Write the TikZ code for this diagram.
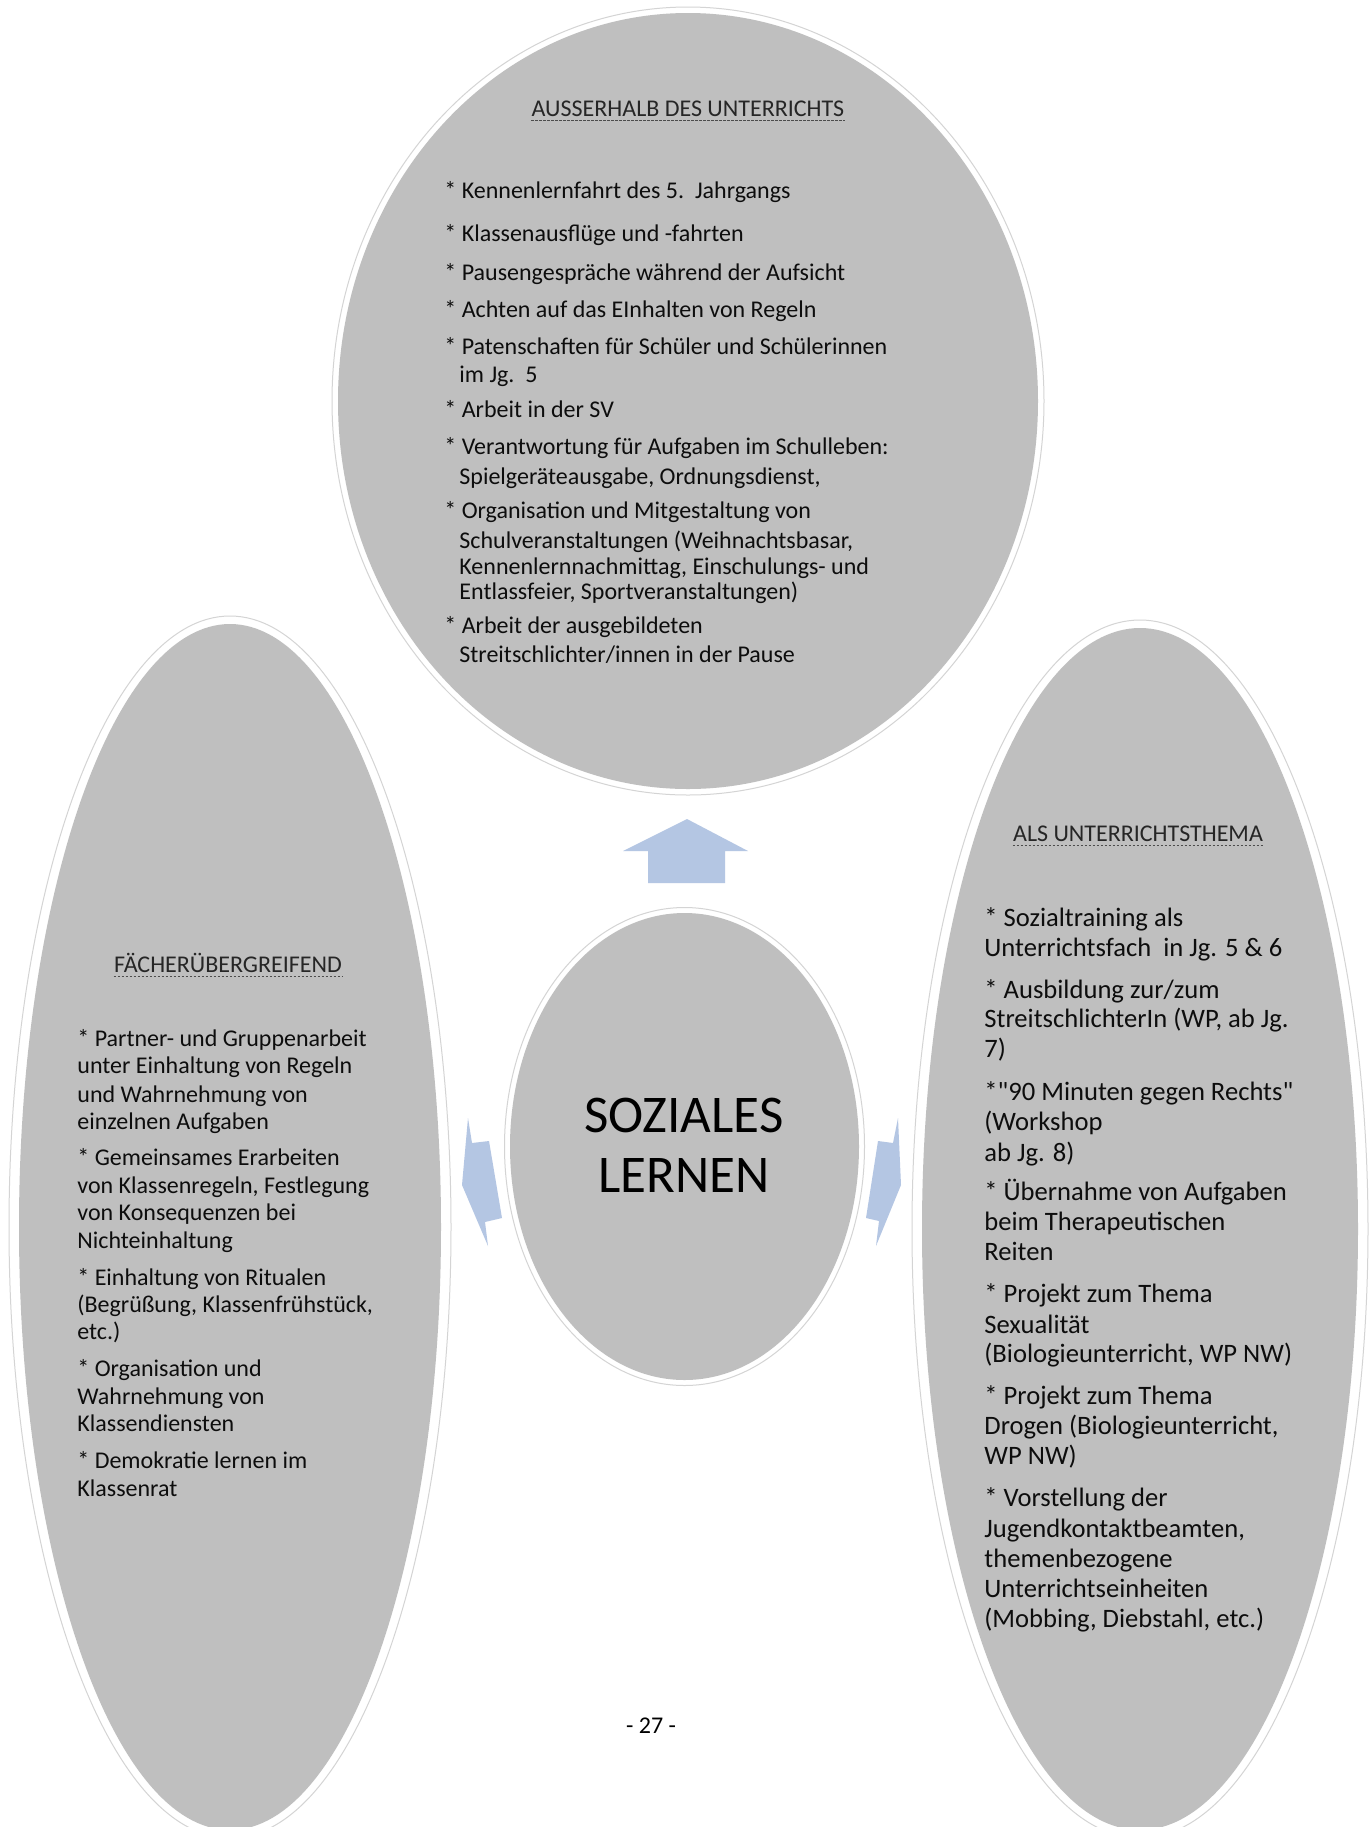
\documentclass[tikz,border=0pt]{standalone}
\usepackage{fontspec}
\setmainfont{Carlito}[Ligatures=TeXOff]
\definecolor{ellgray}{HTML}{BFBFBF}
\definecolor{arrblue}{HTML}{B4C6E3}
\definecolor{rimgray}{HTML}{D4D4D4}
\tikzset{
  rim/.style={draw=rimgray, line width=0.5pt, fill=white},
  blob/.style={fill=ellgray},
  body/.style={anchor=base west, inner sep=0pt, font=\fontsize{12}{14}\selectfont, text=black!95},
  bodyr/.style={body, font=\fontsize{13.3}{15}\selectfont},
  head/.style={anchor=base, inner sep=0pt, font=\fontsize{12}{14}\selectfont, text=black!85},
  uline/.style={draw=black!70, line width=0.5pt, dash pattern=on 1.2pt off 0.8pt},
  blockarrow/.style={fill=arrblue},
  bigtext/.style={anchor=base, inner sep=0pt, font=\fontsize{26.5}{30}\selectfont, text=black},
}
\begin{document}
\begin{tikzpicture}[x=0.5pt, y=-0.5pt]
\useasboundingbox (0,0) rectangle (1370,1827);
\clip (0,0) rectangle (1370,1827);
\fill[white] (0,0) rectangle (1370,1827);

% ellipses
\draw[rim] (688,401) ellipse [x radius=356, y radius=394];
\fill[blob] (688,401) ellipse [x radius=350, y radius=388];
\draw[rim] (230,1227) ellipse [x radius=221, y radius=611];
\fill[blob] (230,1227) ellipse [x radius=211, y radius=603];
\draw[rim] (1140,1229) ellipse [x radius=228, y radius=609];
\fill[blob] (1140,1229) ellipse [x radius=218, y radius=601];
\draw[rim] (684.5,1146.5) ellipse [x radius=180, y radius=239];
\fill[blob] (684.5,1146.5) ellipse [x radius=174.5, y radius=233.5];

% block arrows
\fill[blockarrow] (687,819) -- (748,851) -- (725,851) -- (725,883) -- (648,883) -- (648,851) -- (623,851) -- cycle;
\fill[blockarrow] (468,1118) -- (472,1143) -- (489,1141) -- (502,1218) -- (485,1222) -- (488,1246) -- (462,1185) -- cycle;
\fill[blockarrow] (898,1118) -- (893,1143) -- (878,1141) -- (866,1218) -- (879,1221) -- (876,1246) -- (901,1185) -- cycle;

% centre
\node[bigtext] (c1) at (684,1132) {SOZIALES};
\node[bigtext] (c2) at (684,1192) {LERNEN};

% headings
\node[head] (hT) at (688,116) {AUSSERHALB DES UNTERRICHTS};
\draw[uline] ([yshift=-2pt]hT.base west) -- ([yshift=-2pt]hT.base east);
\node[head] (hL) at (228,972) {FÄCHERÜBERGREIFEND};
\draw[uline] ([yshift=-2pt]hL.base west) -- ([yshift=-2pt]hL.base east);
\node[head] (hR) at (1138,841) {ALS UNTERRICHTSTHEMA};
\draw[uline] ([yshift=-2pt]hR.base west) -- ([yshift=-2pt]hR.base east);

% top texts
\foreach \x/\y/\t [count=\i] in {
 444/198/{* Kennenlernfahrt des 5.\ \ Jahrgangs},
 444/241/{* Klassenausflüge und -fahrten},
 444/280/{* Pausengespräche während der Aufsicht},
 444/317/{* Achten auf das EInhalten von Regeln},
 444/354/{* Patenschaften für Schüler und Schülerinnen},
 459/382/{im Jg.\ \ 5},
 444/417/{* Arbeit in der SV},
 444/454/{* Verantwortung für Aufgaben im Schulleben:},
 459/484/{Spielgeräteausgabe, Ordnungsdienst,},
 444/518/{* Organisation und Mitgestaltung von},
 459/548/{Schulveranstaltungen (Weihnachtsbasar,},
 459/574/{Kennenlernnachmittag, Einschulungs- und},
 459/599/{Entlassfeier, Sportveranstaltungen)},
 444/633/{* Arbeit der ausgebildeten},
 459/662/{Streitschlichter/innen in der Pause}}
 \node[body] (T\i) at (\x,\y) {\t};

% left texts
\foreach \y/\t [count=\i] in {
 1046/{* Partner- und Gruppenarbeit},
 1073/{unter Einhaltung von Regeln},
 1102/{und Wahrnehmung von},
 1129/{einzelnen Aufgaben},
 1165/{* Gemeinsames Erarbeiten},
 1193/{von Klassenregeln, Festlegung},
 1220/{von Konsequenzen bei},
 1248/{Nichteinhaltung},
 1285/{* Einhaltung von Ritualen},
 1312/{(Begrüßung, Klassenfrühstück,},
 1339/{etc.)},
 1376/{* Organisation und},
 1404/{Wahrnehmung von},
 1431/{Klassendiensten},
 1468/{* Demokratie lernen im},
 1496/{Klassenrat}}
 \node[body] (L\i) at (77,\y) {\t};

% right texts
\foreach \y/\t [count=\i] in {
 926/{* Sozialtraining als},
 956/{Unterrichtsfach\ \ in Jg. 5 \& 6},
 998/{* Ausbildung zur/zum},
 1027/{StreitschlichterIn (WP, ab Jg.},
 1057/{7)},
 1100/{*"90 Minuten gegen Rechts"},
 1130/{(Workshop},
 1161/{ab Jg. 8)},
 1200/{* Übernahme von Aufgaben},
 1230/{beim Therapeutischen},
 1260/{Reiten},
 1302/{* Projekt zum Thema},
 1333/{Sexualität},
 1362/{(Biologieunterricht, WP NW)},
 1404/{* Projekt zum Thema},
 1434/{Drogen (Biologieunterricht,},
 1464/{WP NW)},
 1506/{* Vorstellung der},
 1537/{Jugendkontaktbeamten,},
 1567/{themenbezogene},
 1597/{Unterrichtseinheiten},
 1627/{(Mobbing, Diebstahl, etc.)}}
 \node[bodyr] (R\i) at (984,\y) {\t};

% page number
\node[head, text=black] (pg) at (651,1733) {- 27 -};
\end{tikzpicture}
\end{document}
